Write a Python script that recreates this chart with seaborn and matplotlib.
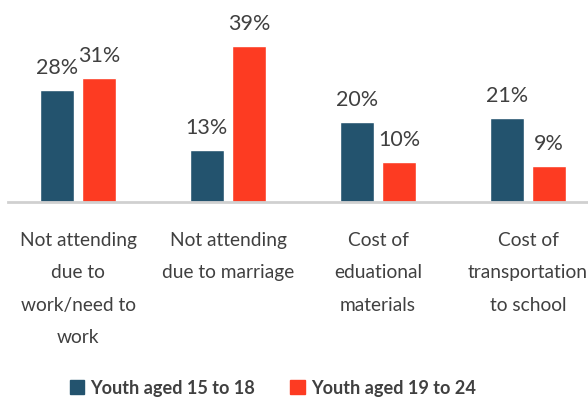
import numpy as np
import pandas as pd
import matplotlib
matplotlib.use('Agg')
import matplotlib.pyplot as plt
import seaborn as sns

categories = ['Not attending\ndue to\nwork/need to\nwork',
              'Not attending\ndue to marriage',
              'Cost of\neduational\nmaterials',
              'Cost of\ntransportation\nto school']
groups = ['Youth aged 15 to 18', 'Youth aged 19 to 24']
young = [28, 13, 20, 21]
older = [31, 39, 10, 9]
colors = ['#23536e', '#fd3b22']

df = pd.DataFrame({'category': categories * 2,
                   'group': [groups[0]] * 4 + [groups[1]] * 4,
                   'value': young + older})

sns.set_style('white')
plt.rcParams['font.family'] = ['Lato', 'DejaVu Sans']
txt = '#404040'

fig = plt.figure(figsize=(5.88, 3.97), dpi=100)
ax = fig.add_axes([8 / 588, (397 - 202) / 397, 1 - 8 / 588, 202 / 397])

sns.barplot(data=df, x='category', y='value', hue='group', palette=colors,
            width=0.567, gap=0.2, saturation=1, ax=ax, legend=False)

for cont in ax.containers:
    ax.bar_label(cont, fmt='%d%%', padding=9, fontsize=15.5, color=txt)

ax.set_xlim(-0.467, 3.4)
ax.set_ylim(0, 50.5)
ax.set_xlabel('')
ax.set_ylabel('')
ax.set_yticks([])
ax.tick_params(axis='x', length=0, pad=21.5)
ax.set_xticks(range(4))
ax.set_xticklabels(categories, fontsize=13.8, color=txt, linespacing=2.1)
for s in ['top', 'right', 'left']:
    ax.spines[s].set_visible(False)
ax.spines['bottom'].set_color('#d0d0d0')
ax.spines['bottom'].set_linewidth(2)

handles = [plt.Rectangle((0, 0), 1, 1, color=c) for c in colors]
fig.legend(handles, groups, loc='lower center', bbox_to_anchor=(0.464, -0.04),
           ncol=2, frameon=False, handlelength=0.8, handleheight=0.8,
           handletextpad=0.35, columnspacing=1.9,
           prop={'weight': 'bold', 'size': 13.1}, labelcolor=txt)

fig.savefig('out.png', dpi=100)
